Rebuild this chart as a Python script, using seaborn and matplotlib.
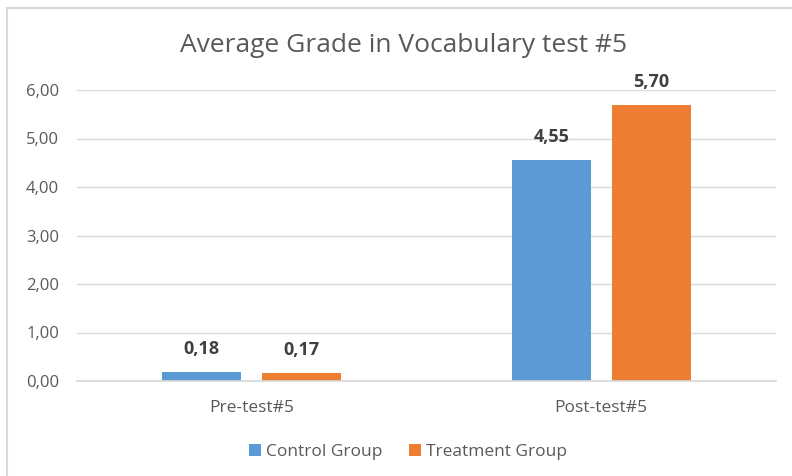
import matplotlib
matplotlib.use("Agg")
import matplotlib.pyplot as plt
import numpy as np
import pandas as pd
import seaborn as sns
from matplotlib.patches import Rectangle
from matplotlib.ticker import FuncFormatter

tests = ["Pre-test#5", "Post-test#5"]
groups = ["Control Group", "Treatment Group"]
control = [0.18, 4.55]
treatment = [0.17, 5.70]
y_ticks = [0, 1, 2, 3, 4, 5, 6]

df = pd.DataFrame({
    "test": tests * 2,
    "group": [groups[0]] * 2 + [groups[1]] * 2,
    "grade": control + treatment,
})

sns.set_theme(style="white")
plt.rcParams["font.family"] = ["Open Sans", "DejaVu Sans"]
text_col = "#595959"

fig = plt.figure(figsize=(7.92, 4.76), dpi=100)
ax = fig.add_axes([77 / 792, 1 - 381 / 476, 699 / 792, 291 / 476])

# chart frame
fig.patches.append(Rectangle((7 / 792, -0.1), 1.2, 1 - 8 / 476 + 0.1, transform=fig.transFigure,
                             fill=False, edgecolor="#D9D9D9", linewidth=1.5))

sns.barplot(data=df, x="test", y="grade", hue="group", order=tests, hue_order=groups,
            palette=["#5B9BD5", "#ED7D31"], saturation=1, width=0.572, gap=0.21, ax=ax,
            edgecolor="none", linewidth=0, legend=True)

ax.set_xlim(-0.5, 1.5)
ax.set_ylim(0, 6)
ax.set_yticks(y_ticks)
ax.yaxis.set_major_formatter(FuncFormatter(lambda v, p: f"{v:.2f}".replace(".", ",")))
ax.grid(axis="y", color="#D9D9D9", linewidth=1)
ax.set_axisbelow(True)
for s in ["top", "right", "left"]:
    ax.spines[s].set_visible(False)
ax.spines["bottom"].set_color("#D9D9D9")
ax.tick_params(axis="both", length=0, colors=text_col, labelsize=12)
ax.tick_params(axis="x", pad=14, labelsize=12.5)
ax.tick_params(axis="y", pad=13)
ax.set_xlabel("")
ax.set_ylabel("")

for cont in ax.containers:
    ax.bar_label(cont, labels=[f"{v:.2f}".replace(".", ",") for v in cont.datavalues],
                 padding=10, fontsize=13, fontweight="bold", color="#404040")

fig.text(404 / 792, 1 - 45 / 476, "Average Grade in Vocabulary test #5", ha="center", va="center",
         fontsize=19, color=text_col)

handles, labels = ax.get_legend_handles_labels()
ax.get_legend().remove()
fig.legend(handles, labels, loc="center", bbox_to_anchor=(408 / 792, 1 - 452 / 476), ncol=2,
           frameon=False, fontsize=12.5, labelcolor=text_col, handlelength=0.7, handleheight=0.7,
           handletextpad=0.3, columnspacing=1.5)

fig.savefig("out.png", dpi=100)
